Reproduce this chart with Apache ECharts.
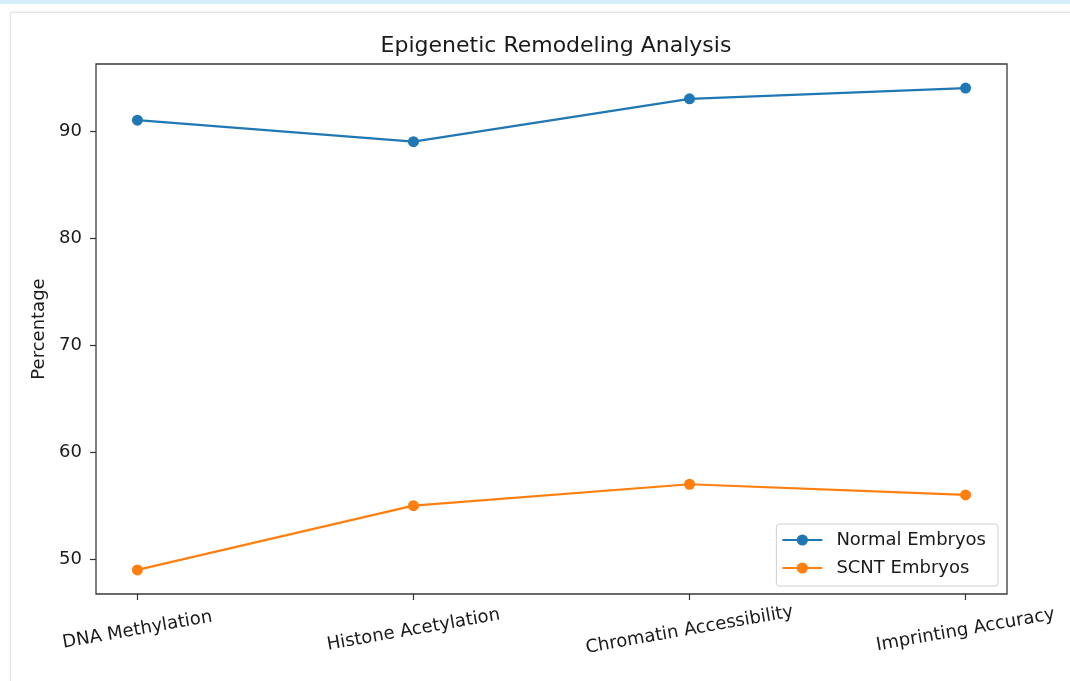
<!DOCTYPE html>
<html><head><meta charset="utf-8">
<script src="https://cdn.jsdelivr.net/npm/echarts@6/dist/echarts.min.js"></script>
<style>
html,body{margin:0;padding:0;background:#fff;}
#wrap{position:relative;width:1070px;height:681px;overflow:hidden;background:#fff;}
#topband{position:absolute;left:0;top:0;width:1070px;height:4px;background:#d6eefa;}
#panel{position:absolute;left:10px;top:12px;width:1080px;height:700px;border:1px solid #e6e6e6;border-right:none;border-bottom:none;box-shadow:0 -1px 2px #f0f0f0;}
#chart{position:absolute;left:0;top:0;width:1070px;height:681px;}
</style></head>
<body><div id="wrap"><div id="topband"></div><div id="panel"></div><div id="chart"></div></div>
<script>
const categories = ['DNA Methylation', 'Histone Acetylation', 'Chromatin Accessibility', 'Imprinting Accuracy'];
const normalEmbryos = [91, 89, 93, 94];
const scntEmbryos = [49, 55, 57, 56];
const yTicks = [50, 60, 70, 80, 90];
const xTicks = [0, 1, 2, 3];

const chart = echarts.init(document.getElementById('chart'));
const font = 'DejaVu Sans';
chart.setOption({
  animation: false,
  title: {
    text: 'Epigenetic Remodeling Analysis',
    left: 551, top: 30, textAlign: 'center',
    textStyle: {fontFamily: font, fontSize: 22, fontWeight: 'normal', color: '#1a1a1a'}
  },
  grid: {left: 96, right: 63, top: 64, bottom: 87, show: true, borderColor: '#3a3a3a', borderWidth: 1.3, backgroundColor: 'transparent'},
  legend: {
    right: 72, top: 524, orient: 'vertical',
    itemWidth: 40, itemHeight: 14, itemGap: 10,
    padding: [7, 12, 9, 5],
    borderColor: '#d0d0d0', borderWidth: 1, borderRadius: 3, backgroundColor: '#fff',
    textStyle: {fontFamily: font, fontSize: 18, color: '#1a1a1a', padding: [0, 0, 0, 9]}
  },
  xAxis: {
    type: 'value', min: -0.15, max: 3.15,
    axisLine: {show: false, onZero: false},
    splitLine: {show: false},
    axisTick: {show: true, customValues: xTicks, length: 6, lineStyle: {color: '#333', width: 1.2}},
    axisLabel: {
      customValues: xTicks, rotate: 10, margin: 36, align: 'center', verticalAlign: 'middle',
      fontFamily: font, fontSize: 18, color: '#1a1a1a',
      formatter: v => categories[Math.round(v)]
    }
  },
  yAxis: {
    type: 'value', min: 46.75, max: 96.25,
    name: 'Percentage', nameLocation: 'middle', nameGap: 46, nameRotate: 90,
    nameTextStyle: {fontFamily: font, fontSize: 18, color: '#1a1a1a'},
    axisLine: {show: false, onZero: false},
    splitLine: {show: false},
    axisTick: {show: true, customValues: yTicks, length: 6, lineStyle: {color: '#333', width: 1.2}},
    axisLabel: {customValues: yTicks, margin: 14, fontFamily: font, fontSize: 18, color: '#1a1a1a'}
  },
  series: [
    {name: 'Normal Embryos', type: 'line', data: normalEmbryos.map((v, i) => [i, v]),
     symbol: 'circle', symbolSize: 11, color: '#1f77b4', lineStyle: {width: 2.2}},
    {name: 'SCNT Embryos', type: 'line', data: scntEmbryos.map((v, i) => [i, v]),
     symbol: 'circle', symbolSize: 11, color: '#ff7f0e', lineStyle: {width: 2.2}}
  ]
});
</script></body></html>
